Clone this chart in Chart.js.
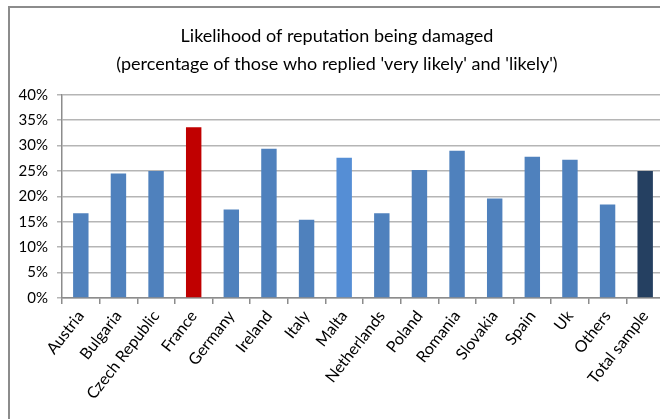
<!DOCTYPE html>
<html>
<head>
<meta charset="utf-8">
<script src="https://cdn.jsdelivr.net/npm/chart.js@4"></script>
<style>
  html, body { margin: 0; padding: 0; background: #fff; overflow: hidden; }
  #frame {
    position: absolute; left: 8px; top: 6px; width: 652px; height: 413px;
    border-top: 2px solid #8c8c8c; border-left: 2px solid #8c8c8c; overflow: hidden;
  }
  #wrap { position: absolute; left: 0; top: 0; width: 654px; height: 411px; }
</style>
</head>
<body>
<div id="frame"><div id="wrap"><canvas id="myChart"></canvas></div></div>
<script>
  const countries = ["Austria","Bulgaria","Czech Republic","France","Germany","Ireland","Italy","Malta",
                     "Netherlands","Poland","Romania","Slovakia","Spain","Uk","Others","Total sample"];
  const values = [16.7, 24.5, 25.0, 33.6, 17.4, 29.4, 15.4, 27.6, 16.7, 25.2, 29.0, 19.6, 27.8, 27.2, 18.4, 25.0];
  const barColors = ['#4F81BD','#4F81BD','#4F81BD','#C00000','#4F81BD','#4F81BD','#4F81BD','#558ED5',
                     '#4F81BD','#4F81BD','#4F81BD','#4F81BD','#4F81BD','#4F81BD','#4F81BD','#254061'];
  const titleLines = ["Likelihood of reputation being damaged",
                      "(percentage of those who replied 'very likely' and 'likely')"];

  const font = "Lato, 'Noto Sans', sans-serif";

  const data = {
    labels: countries,
    datasets: [{
      label: "likely",
      data: values,
      backgroundColor: barColors,
      borderWidth: 0,
      barPercentage: 0.41,
      categoryPercentage: 1
    }]
  };

  const config = {
    type: 'bar',
    data: data,
    options: {
      responsive: true,
      maintainAspectRatio: false,
      animation: false,
      layout: { padding: 0 },
      plugins: {
        legend: { display: false },
        tooltip: { enabled: false },
        title: {
          display: true,
          text: titleLines,
          color: '#000',
          font: { family: font, size: 18, weight: 'normal', lineHeight: 1.55 },
          padding: { top: 14, bottom: 17 }
        }
      },
      scales: {
        y: {
          min: 0,
          max: 40,
          ticks: {
            stepSize: 5,
            color: '#000',
            padding: 9,
            font: { family: font, size: 15 },
            callback: v => v + '%'
          },
          grid: { color: '#b5b5b5', lineWidth: 1.5, tickLength: 5 },
          border: { color: '#8c8c8c', width: 1.5 },
          afterFit: s => { s.width = 52; }
        },
        x: {
          ticks: {
            color: '#000',
            minRotation: 52,
            maxRotation: 52,
            padding: 3,
            font: { family: font, size: 16 }
          },
          grid: { drawOnChartArea: false, drawTicks: true, tickLength: 6, color: '#8c8c8c', lineWidth: 1.5 },
          border: { color: '#8c8c8c', width: 1.5 },
          afterFit: s => { s.height = 121; }
        }
      }
    }
  };

  const myChart = new Chart(document.getElementById('myChart'), config);
</script>
</body>
</html>
